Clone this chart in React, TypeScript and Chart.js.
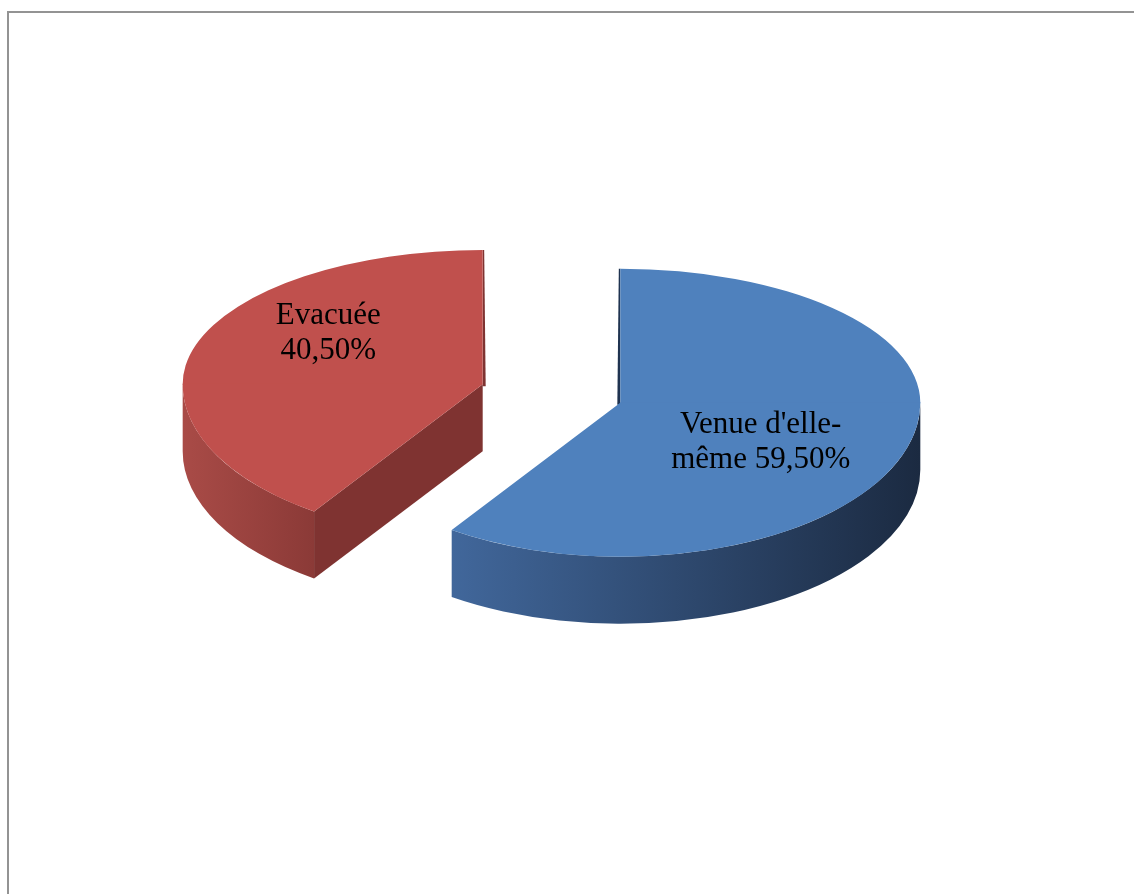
import React, { useEffect, useRef } from "react";
import { Chart, registerables } from "chart.js";

Chart.register(...registerables);

// ---- data ----
const categories = ["Venue d'elle-même", "Evacuée"];
const percentages = [59.5, 40.5];
const topColors = ["#4f81bd", "#c0504d"];
const wallColorsLeft = ["#41679b", "#a94b47"];
const wallColorsRight = ["#1b2a41", "#8b3a37"];
const cutFaceColors = ["#1f3350", "#7f3331"];
const explodeDistances = [72, 72];

// ---- 3D look ----
const TILT = 0.44; // used for the explode shift
const TILT_BACK = 0.447; // far half of the disc
const TILT_FRONT = 0.513; // near half of the disc (perspective)
const DEPTH = 67;
const RADIUS = 300;
const LABEL_FONT = "31px 'Liberation Serif', 'Times New Roman', serif";
const LABEL_LINE = 35;
const LABEL_MAX_W = 190;
const LABEL_SHIFT = [
  [-3, 17],
  [-11, -31],
];

const W = 1134;
const H = 894;

function fmt(v: number) {
  return v.toFixed(2).replace(".", ",") + "%";
}

function arcGeom(el: any, chart: any, i: number) {
  const p = el.getProps(["x", "y", "startAngle", "endAngle", "outerRadius"], true);
  const half = (p.startAngle + p.endAngle) / 2;
  const d = explodeDistances[i] || 0;
  const dx = Math.cos(half) * d;
  const dy = Math.sin(half) * d;
  const cy0 = (chart.chartArea.top + chart.chartArea.bottom) / 2;
  return {
    px: p.x,
    py: p.y,
    cx: p.x + dx,
    cy: cy0 + TILT * (p.y + dy - cy0),
    r: p.outerRadius,
    s: p.startAngle,
    e: p.endAngle,
    half,
    dx,
  };
}

function wrap(ctx: CanvasRenderingContext2D, text: string, maxW: number) {
  const tokens: string[] = [];
  text.split(" ").forEach((w, i, arr) => {
    const parts = w.split(/(?<=-)/);
    parts.forEach((pt, j) => {
      tokens.push(pt + (j === parts.length - 1 && i < arr.length - 1 ? " " : ""));
    });
  });
  const lines: string[] = [];
  let cur = "";
  tokens.forEach((tk) => {
    const test = cur + tk;
    if (cur && ctx.measureText(test.trimEnd()).width > maxW) {
      lines.push(cur.trimEnd());
      cur = tk;
    } else {
      cur = test;
    }
  });
  if (cur) lines.push(cur.trimEnd());
  return lines;
}

const pie3d = {
  id: "pie3d",
  beforeDatasetsDraw(chart: any) {
    const ctx: CanvasRenderingContext2D = chart.ctx;
    const meta = chart.getDatasetMeta(0);
    const geoms = meta.data.map((el: any, i: number) => arcGeom(el, chart, i));

    // side walls and cut faces
    geoms.forEach((g: any, i: number) => {
      const ry = g.r * TILT_FRONT;
      [g.s, g.e].forEach((a: number, j: number) => {
        const n = j === 0 ? a - Math.PI / 2 : a + Math.PI / 2;
        if (Math.sin(n) > 0.02) {
          const px = g.cx + g.r * Math.cos(a);
          const py = g.cy + ry * Math.sin(a);
          ctx.beginPath();
          ctx.moveTo(g.cx, g.cy);
          ctx.lineTo(px, py);
          ctx.lineTo(px, py + DEPTH);
          ctx.lineTo(g.cx, g.cy + DEPTH);
          ctx.closePath();
          ctx.fillStyle = cutFaceColors[i];
          ctx.fill();
        }
      });
      for (let k = -1; k <= 1; k++) {
        const lo = Math.max(g.s, 2 * Math.PI * k);
        const hi = Math.min(g.e, 2 * Math.PI * k + Math.PI);
        if (hi - lo <= 0.001) continue;
        const x1 = g.cx + g.r * Math.cos(lo);
        const x2 = g.cx + g.r * Math.cos(hi);
        const left = Math.min(x1, x2, hi > Math.PI * (2 * k + 1) - 0.001 ? g.cx - g.r : Infinity);
        const right = Math.max(x1, x2, lo <= 2 * Math.PI * k + 0.001 ? g.cx + g.r : -Infinity);
        const grad = ctx.createLinearGradient(left, 0, right, 0);
        grad.addColorStop(0, wallColorsLeft[i]);
        grad.addColorStop(1, wallColorsRight[i]);
        ctx.beginPath();
        ctx.ellipse(g.cx, g.cy, g.r, ry, 0, lo, hi, false);
        ctx.ellipse(g.cx, g.cy + DEPTH, g.r, ry, 0, hi, lo, true);
        ctx.closePath();
        ctx.fillStyle = grad;
        ctx.fill();
      }
      // thin sliver of the vertical (12 o'clock) cut face seen in perspective
      const vx = g.cx - 567;
      [g.s, g.e].forEach((a: number) => {
        if (Math.abs(Math.sin(a) + 1) < 0.001) {
          const w = vx > 0 ? -3 : 3;
          const ryB = g.r * TILT_BACK;
          ctx.beginPath();
          ctx.moveTo(g.cx, g.cy - ryB);
          ctx.lineTo(g.cx, g.cy + 2);
          ctx.lineTo(g.cx + w, g.cy + 2);
          ctx.lineTo(g.cx + w * 0.5, g.cy - ryB);
          ctx.closePath();
          ctx.fillStyle = cutFaceColors[i];
          ctx.fill();
        }
      });
    });

    // top faces: the library's own arc elements, drawn in a tilted, exploded frame
    geoms.forEach((g: any, i: number) => {
      const el = meta.data[i];
      [
        [TILT_BACK, -10, g.cy + 0.5],
        [TILT_FRONT, g.cy - 0.5, H + 10],
      ].forEach(([k, y0, y1]) => {
        ctx.save();
        ctx.beginPath();
        ctx.rect(0, y0, W, y1 - y0);
        ctx.clip();
        ctx.translate(g.dx, g.cy);
        ctx.scale(1, k);
        ctx.translate(0, -g.py);
        el.draw(ctx);
        ctx.restore();
      });
    });

    // labels
    ctx.save();
    ctx.font = LABEL_FONT;
    ctx.fillStyle = "#000";
    ctx.textAlign = "center";
    ctx.textBaseline = "middle";
    geoms.forEach((g: any, i: number) => {
      const sn = Math.sin(g.half);
      const k = sn > 0 ? TILT_FRONT : TILT_BACK;
      const ax = g.cx + 0.5 * g.r * Math.cos(g.half) + LABEL_SHIFT[i][0];
      const ay = g.cy + 0.5 * g.r * k * sn + LABEL_SHIFT[i][1];
      const text = categories[i] + " " + fmt(percentages[i]);
      const lines = wrap(ctx, text, LABEL_MAX_W);
      lines.forEach((ln, j) => {
        ctx.fillText(ln, ax, ay + (j - (lines.length - 1) / 2) * LABEL_LINE);
      });
    });
    ctx.restore();
    return false;
  },
};

export default function App() {
  const ref = useRef<HTMLCanvasElement | null>(null);
  useEffect(() => {
    if (!ref.current) return;
    const chart = new Chart(ref.current, {
      type: "pie",
      data: {
        labels: categories,
        datasets: [
          {
            data: percentages,
            backgroundColor: topColors,
            borderWidth: 0,
            offset: 0,
            clip: false,
          } as any,
        ],
      },
      options: {
        animation: false,
        responsive: false,
        events: [],
        radius: RADIUS,
        rotation: 0,
        layout: { padding: { left: 100, right: 131, top: 50, bottom: 157 } },
        plugins: {
          legend: { display: false },
          title: { display: false },
          tooltip: { enabled: false },
        },
      } as any,
      plugins: [pie3d],
    });
    return () => chart.destroy();
  }, []);

  return (
    <div
      style={{
        position: "absolute",
        left: 0,
        top: 0,
        width: W,
        height: H,
        overflow: "hidden",
        background: "#fff",
      }}
    >
      <div
        style={{
          position: "absolute",
          left: 7,
          top: 11,
          width: 1300,
          height: 1100,
          border: "2px solid #939393",
        }}
      />
      <canvas
        ref={ref}
        width={W}
        height={H}
        style={{ position: "absolute", left: 0, top: 0, display: "block" }}
      />
    </div>
  );
}
